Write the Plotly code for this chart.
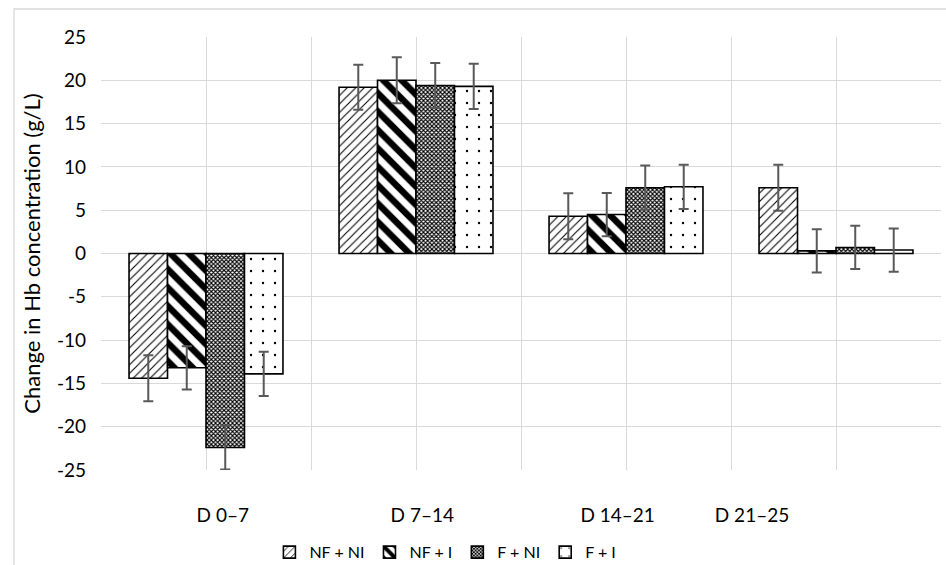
import plotly.graph_objects as go

categories = ["D 0\u20137", "D 7\u201314", "D 14\u201321", "D 21\u201325"]
series_names = ["NF + NI", "NF + I", "F + NI", "F + I"]
nf_ni = [-14.4, 19.2, 4.3, 7.6]
nf_i = [-13.2, 20.0, 4.5, 0.3]
f_ni = [-22.4, 19.4, 7.6, 0.7]
f_i = [-13.9, 19.3, 7.7, 0.4]
nf_ni_err = [2.65, 2.6, 2.65, 2.65]
nf_i_err = [2.5, 2.65, 2.5, 2.5]
f_ni_err = [2.55, 2.6, 2.55, 2.5]
f_i_err = [2.55, 2.6, 2.55, 2.5]
y_ticks = [-25, -20, -15, -10, -5, 0, 5, 10, 15, 20, 25]

values = [nf_ni, nf_i, f_ni, f_i]
errors = [nf_ni_err, nf_i_err, f_ni_err, f_i_err]
patterns = [
    dict(shape="/", size=6, solidity=0.18, fgcolor="black", bgcolor="white", fgopacity=1, fillmode="overlay"),
    dict(shape="\\", size=13, solidity=0.5, fgcolor="black", bgcolor="white", fgopacity=1, fillmode="overlay"),
    dict(shape="x", size=3, solidity=0.6, fgcolor="black", bgcolor="white", fgopacity=1, fillmode="overlay"),
    dict(shape=".", size=12, solidity=0.03, fgcolor="black", bgcolor="white", fgopacity=1, fillmode="overlay"),
]

xpos = list(range(len(categories)))
label_offsets = [0.08, 0.03, -0.04, -0.4]
label_pos = [p + o for p, o in zip(xpos, label_offsets)]
grid_pos = [i * 0.5 - 0.5 for i in range(2 * len(categories) + 1)]

FONT = "Lato, 'Open Sans', sans-serif"

fig = go.Figure()
for name, v, e, pat in zip(series_names, values, errors, patterns):
    fig.add_trace(go.Bar(
        name=name, x=xpos, y=v,
        marker=dict(color="white", pattern=pat, line=dict(color="black", width=1.6)),
        error_y=dict(type="data", array=e, visible=True, color="#595959", thickness=2, width=5),
    ))

fig.update_layout(
    width=946, height=565,
    margin=dict(l=101, r=5, t=37, b=95, autoexpand=False),
    paper_bgcolor="white", plot_bgcolor="white",
    barmode="group", bargap=0.267, bargroupgap=0,
    font=dict(family=FONT, size=18, color="black"),
    showlegend=True,
    legend=dict(orientation="h", x=0.41, xanchor="center", y=-0.19, yanchor="middle",
                font=dict(size=16), itemwidth=30, tracegroupgap=0),
    xaxis=dict(
        range=[-0.5, 3.5], tickmode="array", tickvals=label_pos, ticktext=categories,
        showgrid=False, zeroline=False, showline=False, ticks="",
        ticklabelstandoff=32, tickfont=dict(size=19),
        minor=dict(tickmode="array", tickvals=grid_pos, showgrid=True,
                   gridcolor="#D9D9D9", gridwidth=1.3, ticks=""),
    ),
    yaxis=dict(
        range=[-25, 25], tickmode="array", tickvals=y_ticks,
        ticktext=[str(t) for t in y_ticks],
        showgrid=True, gridcolor="#D9D9D9", gridwidth=1.3,
        zeroline=True, zerolinecolor="#D9D9D9", zerolinewidth=1.3,
        showline=False, ticks="", ticklabelstandoff=14, tickfont=dict(size=19),
        title=dict(text="Change in Hb concentration (g/L)", font=dict(size=22), standoff=10),
    ),
    shapes=[dict(type="rect", xref="paper", yref="paper",
                 x0=-0.1036, x1=1.03, y0=-0.25, y1=1.0647,
                 line=dict(color="#D9D9D9", width=1.3), layer="below")],
)

fig.write_html("out.html")
